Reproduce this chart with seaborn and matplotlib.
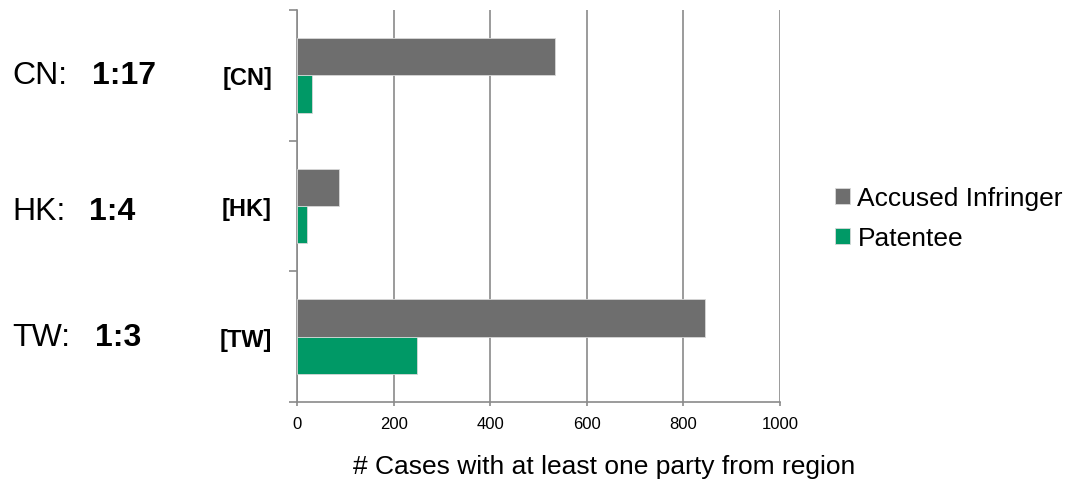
import matplotlib
matplotlib.use("Agg")
import matplotlib.pyplot as plt
import matplotlib.transforms as mtransforms
import seaborn as sns
import pandas as pd

# Case counts by region and party role
regions = ["CN", "HK", "TW"]
region_tags = ["[CN]", "[HK]", "[TW]"]
ratios = ["1:17", "1:4", "1:3"]
accused = [534, 87, 845]
patentee = [31, 20, 248]
roles = ["Accused Infringer", "Patentee"]
xticks = [0, 200, 400, 600, 800, 1000]

df = pd.DataFrame({
    "region": regions * 2,
    "role": [roles[0]] * len(regions) + [roles[1]] * len(regions),
    "cases": accused + patentee,
})

sns.set_theme(style="white")
plt.rcParams["font.family"] = ["Liberation Sans", "DejaVu Sans"]
plt.rcParams["text.color"] = "black"
plt.rcParams["xtick.labelcolor"] = "black"
plt.rcParams["ytick.labelcolor"] = "black"
plt.rcParams["axes.labelcolor"] = "black"

W, H = 1067, 485
fig = plt.figure(figsize=(W / 100, H / 100), dpi=100)
ax = fig.add_axes([297 / W, (H - 403) / H, (780 - 297) / W, (403 - 11) / H])

palette = {roles[0]: "#6e6e6e", roles[1]: "#009966"}
sns.barplot(data=df, y="region", x="cases", hue="role", hue_order=roles,
            order=regions, orient="h", palette=palette, width=0.57,
            edgecolor="#d8d8d8", linewidth=0.6, saturation=1, ax=ax, zorder=3)

grey = "#8a8a8a"
ax.set_xlim(0, 1000)
ax.set_ylim(2.5, -0.5)
ax.set_xticks(xticks)
ax.set_xticklabels([str(t) for t in xticks], fontsize=12)
ax.xaxis.grid(True, color=grey, linewidth=1.2, zorder=0)
ax.yaxis.grid(False)
for s in ["top", "right"]:
    ax.spines[s].set_visible(False)
for s in ["left", "bottom"]:
    ax.spines[s].set_color(grey)
    ax.spines[s].set_linewidth(1.2)
ax.tick_params(axis="x", bottom=True, length=3, width=1.2, color=grey, pad=7)

# region tags as y tick labels; tick marks sit at category boundaries
ax.set_yticks(range(len(regions)))
ax.set_yticklabels(region_tags, fontsize=17, fontweight="bold")
ax.tick_params(axis="y", which="major", left=False, length=0, pad=18)
ax.set_yticks([-0.5, 0.5, 1.5, 2.5], minor=True)
ax.tick_params(axis="y", which="minor", left=True, length=6, width=1.2, color=grey)

ax.set_ylabel("")
ax.set_xlabel("# Cases with at least one party from region", fontsize=19,
              labelpad=16)
ax.xaxis.set_label_coords((604 - 297) / (780 - 297), -0.12, transform=None)
ax.xaxis.label.set_transform(mtransforms.blended_transform_factory(
    ax.transAxes, fig.transFigure))
ax.xaxis.label.set_position(((604 - 297) / (780 - 297), (H - 467) / H))
ax.xaxis.label.set_verticalalignment("center")

# ratio annotations at the far left
trans = mtransforms.blended_transform_factory(fig.transFigure, ax.transData)
ratio_x = [92, 89, 95]
ratio_dy = [0.0, 0.04, 0.0]
for i, (r, ratio) in enumerate(zip(regions, ratios)):
    ax.text(12 / W, i + ratio_dy[i], f"{r}:", transform=trans, fontsize=23,
            va="center", ha="left")
    ax.text(ratio_x[i] / W, i + ratio_dy[i], ratio, transform=trans,
            fontsize=23, fontweight="bold", va="center", ha="left")

leg = ax.legend(loc="center left", bbox_to_anchor=(835 / W, (H - 219) / H),
                bbox_transform=fig.transFigure, frameon=False, fontsize=19,
                handlelength=0.55, handleheight=0.55, handletextpad=0.3,
                labelspacing=0.6, borderaxespad=0, borderpad=0, title=None)

fig.savefig("out.png", dpi=100)
